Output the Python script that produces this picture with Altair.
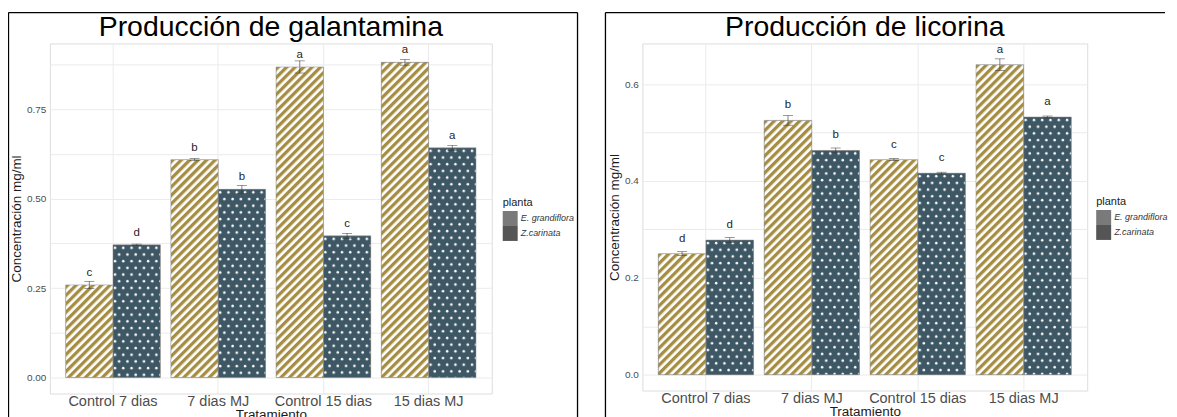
import base64
import altair as alt
import pandas as pd

# ---------------- data ----------------
treatments = ["Control 7 dias", "7 dias MJ", "Control 15 dias", "15 dias MJ"]
plants = ["E. grandiflora", "Z.carinata"]

gal_e_mean = [0.259, 0.609, 0.868, 0.881]
gal_e_sd = [0.010, 0.003, 0.017, 0.008]
gal_z_mean = [0.371, 0.526, 0.396, 0.642]
gal_z_sd = [0.002, 0.011, 0.007, 0.007]
gal_e_letters = ["c", "b", "a", "a"]
gal_z_letters = ["d", "b", "c", "a"]

lic_e_mean = [0.250, 0.525, 0.444, 0.640]
lic_e_sd = [0.004, 0.010, 0.002, 0.012]
lic_z_mean = [0.278, 0.463, 0.416, 0.532]
lic_z_sd = [0.005, 0.005, 0.002, 0.002]
lic_e_letters = ["d", "b", "c", "a"]
lic_z_letters = ["d", "b", "c", "a"]

gal_ticks = [0, 0.125, 0.25, 0.375, 0.5, 0.625, 0.75, 0.875]
lic_ticks = [0, 0.1, 0.2, 0.3, 0.4, 0.5, 0.6]

# ---------------- styles ----------------
FONT = "Liberation Sans"
GOLD = "#A58E43"
SLATE = "#3E5764"
KEY_COLORS = ["#7A7A7A", "#555555"]


def svg_uri(svg):
    return "data:image/svg+xml;base64," + base64.b64encode(svg.encode("utf-8")).decode("ascii")


STRIPES = svg_uri(
    '<svg xmlns="http://www.w3.org/2000/svg" width="100%" height="100%">'
    '<defs><pattern id="p" patternUnits="userSpaceOnUse" width="6" height="6" '
    'patternTransform="rotate(45)">'
    '<rect width="6" height="6" fill="#FFFFFF"/>'
    f'<rect width="3.3" height="6" fill="{GOLD}"/>'
    '</pattern></defs><rect width="100%" height="100%" fill="url(#p)"/></svg>'
)
DOTS = svg_uri(
    '<svg xmlns="http://www.w3.org/2000/svg" width="100%" height="100%">'
    '<defs><pattern id="p" patternUnits="userSpaceOnUse" width="8.3" height="13.4">'
    f'<rect width="8.3" height="13.4" fill="{SLATE}"/>'
    '<circle cx="2" cy="3" r="1.25" fill="#FFFFFF"/>'
    '<circle cx="6.15" cy="9.7" r="1.25" fill="#FFFFFF"/>'
    '</pattern></defs><rect width="100%" height="100%" fill="url(#p)"/></svg>'
)


def panel(title, e_mean, e_sd, z_mean, z_sd, e_let, z_let, w, h, dom, ticks, label_expr,
          fx1, fx2, right_edge, lx, ly):
    df = pd.DataFrame({
        "trat": treatments * 2,
        "planta": [plants[0]] * 4 + [plants[1]] * 4,
        "mean": e_mean + z_mean,
        "sd": e_sd + z_sd,
        "letra": e_let + z_let,
    })
    base = alt.Chart(df).transform_calculate(
        lo="datum.mean - datum.sd",
        hi="datum.mean + datum.sd",
        laby="datum.mean + 0.025",
        img=f"datum.planta == '{plants[0]}' ? '{STRIPES}' : '{DOTS}'",
    )

    x = alt.X(
        "trat:N", sort=treatments, title="Tratamiento",
        scale=alt.Scale(paddingInner=0.1, paddingOuter=0.15),
        axis=alt.Axis(labelAngle=0, labelFontSize=14.5, labelColor="#4D4D4D", labelFont=FONT,
                      labelPadding=1, ticks=False, domain=False, grid=True, gridColor="#EBEBEB",
                      gridWidth=1, bandPosition=0.5, titleFontSize=13.5, titleColor="#1A1A1A",
                      titlePadding=0, titleFont=FONT, titleFontWeight="normal", labelLimit=250),
    )
    xo = alt.XOffset("planta:N", sort=plants, scale=alt.Scale(paddingInner=0, paddingOuter=0))

    def Y(field):
        return alt.Y(
            field, type="quantitative", title="Concentración mg/ml",
            scale=alt.Scale(domain=dom, nice=False, zero=False),
            axis=alt.Axis(values=ticks, labelExpr=label_expr, labelFontSize=10,
                          labelColor="#4D4D4D", labelFont=FONT, labelPadding=4, ticks=False,
                          domain=False, grid=True, gridColor="#EBEBEB", gridWidth=1,
                          titleFontSize=13.5, titleFontWeight="normal", titleColor="#1A1A1A",
                          titleFont=FONT, titlePadding=3),
        )

    color = alt.Color(
        "planta:N", scale=alt.Scale(domain=plants, range=KEY_COLORS),
        legend=alt.Legend(title="planta", orient="none", legendX=lx, legendY=ly,
                          symbolType="square", symbolSize=225, symbolStrokeWidth=0,
                          rowPadding=0, labelFontSize=9, labelFontStyle="italic",
                          labelColor="#333333", labelOffset=3, labelFont=FONT,
                          titleFontSize=11, titleFontWeight="normal", titleColor="#1A1A1A",
                          titlePadding=3, titleFont=FONT),
    )

    bars = base.mark_bar().encode(x=x, xOffset=xo, y=Y("mean"), y2=alt.datum(0), color=color)
    imgs = base.mark_image(aspect=False).encode(
        x=x, xOffset=xo, y=Y("mean"), y2=alt.datum(0), url="img:N")
    outline = base.mark_bar(fillOpacity=0, stroke="#8C8C8C", strokeWidth=0.5).encode(
        x=x, xOffset=xo, y=Y("mean"), y2=alt.datum(0))
    err = base.mark_rule(color="#333333", strokeWidth=0.6).encode(
        x=x, xOffset=xo, y=Y("lo"), y2="hi:Q")
    cap_hi = base.mark_tick(color="#333333", thickness=0.7, size=10).encode(
        x=x, xOffset=xo, y=Y("hi"))
    cap_lo = base.mark_tick(color="#333333", thickness=0.7, size=10).encode(
        x=x, xOffset=xo, y=Y("lo"))
    letters = base.mark_text(baseline="alphabetic", fontSize=11.5, font=FONT,
                             fill="#262626").encode(
        x=x, xOffset=xo, y=Y("laby"), text="letra:N")

    one = alt.InlineData(values=[{"k": 1}])
    frame_top = alt.Chart(one).mark_rule(color="black", strokeWidth=1.3).encode(
        x=alt.value(fx1), x2=alt.value(fx2), y=alt.value(-31))
    frame_left = alt.Chart(one).mark_rule(color="black", strokeWidth=1.3).encode(
        x=alt.value(fx1), y=alt.value(-31), y2=alt.value(376))
    layers = [frame_top, frame_left]
    if right_edge:
        layers.append(alt.Chart(one).mark_rule(color="black", strokeWidth=1.3).encode(
            x=alt.value(fx2), y=alt.value(-31), y2=alt.value(376)))
    head = alt.Chart(one).mark_text(
        fontSize=28.5, font=FONT, fontWeight="normal", color="#000000",
        baseline="alphabetic", align="center",
    ).encode(x=alt.value(w / 2), y=alt.value(-7.5), text=alt.value(title))

    return alt.layer(
        *layers, head, bars, imgs, outline, err, cap_hi, cap_lo, letters
    ).properties(width=w, height=h)


left = panel("Producción de galantamina", gal_e_mean, gal_e_sd, gal_z_mean, gal_z_sd,
             gal_e_letters, gal_z_letters, 443, 351, [-0.0446, 0.9337], gal_ticks,
             "round(datum.value*8) % 2 == 0 ? format(datum.value, '.2f') : ''",
             -41.5, 529, True, 454, 154)
right = panel("Producción de licorina", lic_e_mean, lic_e_sd, lic_z_mean, lic_z_sd,
              lic_e_letters, lic_z_letters, 446, 348, [-0.0326, 0.6838], lic_ticks,
              "round(datum.value*10) % 2 == 0 ? format(datum.value, '.1f') : ''",
              -37, 524, False, 455, 153)

chart = alt.hconcat(left, right, spacing=151, bounds="flush").resolve_scale(
    color="independent", y="independent", x="independent", xOffset="independent"
).resolve_legend(color="independent").properties(
    padding={"left": -1, "top": 2, "right": 0, "bottom": 0},
    background="white",
).configure_view(stroke=None).configure(font=FONT)

chart.save("out.html", embed_options={"renderer": "svg", "actions": False})
